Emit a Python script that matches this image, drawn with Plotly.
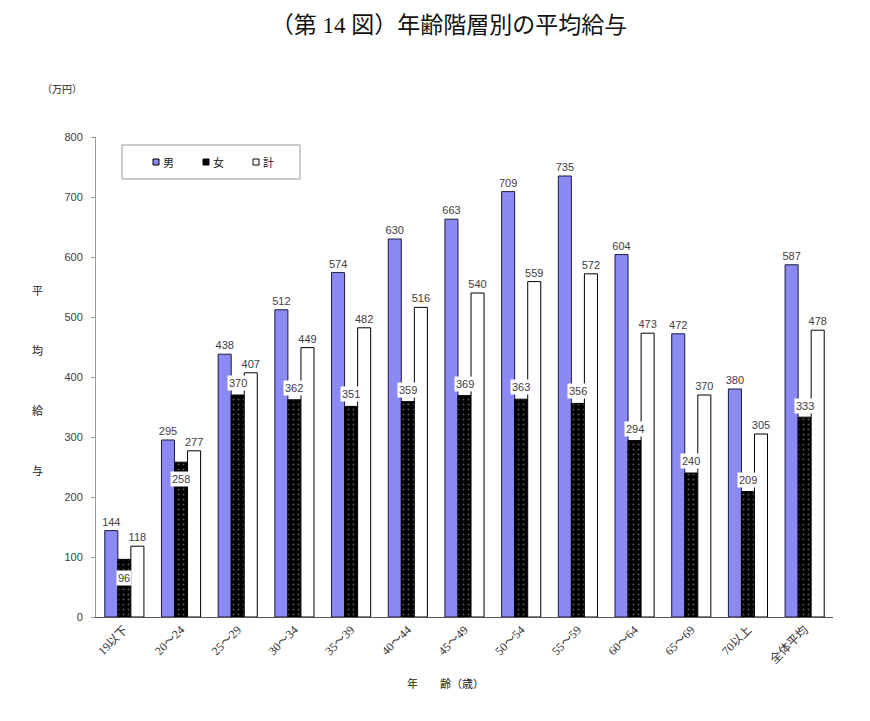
import plotly.graph_objects as go

categories = ["19以下", "20～24", "25～29", "30～34", "35～39", "40～44", "45～49",
              "50～54", "55～59", "60～64", "65～69", "70以上", "全体平均"]
male = [144, 295, 438, 512, 574, 630, 663, 709, 735, 604, 472, 380, 587]
female = [96, 258, 370, 362, 351, 359, 369, 363, 356, 294, 240, 209, 333]
total = [118, 277, 407, 449, 482, 516, 540, 559, 572, 473, 370, 305, 478]
series_names = ["男", "女", "計"]
y_ticks = [0, 100, 200, 300, 400, 500, 600, 700, 800]

# pixel offsets of the 女 value labels (style, not data)
female_label_shift = [-19, -17, 12, 12, 12, 12, 12, 12, 12, 12, 12, 12, 11]

sans = "Liberation Sans, Arial, Noto Sans CJK JP"
serif = "Liberation Serif, Noto Sans CJK JP"
cjk = "Noto Sans CJK JP"
label_font = dict(family=sans, size=11, color="#404040")

male_color = "#8a8af2"
female_color = "#000000"
total_color = "#ffffff"

# page offset (browser body margin)
OFF = 8
PL, PR, PT, PB = 96, 833, 137, 617   # plot area in screen px
PW, PH = PR - PL, PB - PT


def px(xs):
    return (xs - PL) / PW


def py(ys):
    return (PB - ys) / PH


fig = go.Figure()
fig.add_trace(go.Bar(
    name=series_names[0], x=categories, y=male,
    marker=dict(color=male_color, line=dict(color="#1a1a40", width=1)),
    text=[str(v) for v in male], textposition="outside", textfont=label_font,
    constraintext="none", cliponaxis=False,
))
fig.add_trace(go.Bar(
    name=series_names[1], x=categories, y=female,
    marker=dict(color=female_color, line=dict(color="#000000", width=1),
                pattern=dict(shape=".", fgcolor="#aaaaaa", bgcolor="#000000",
                             size=5, solidity=0.12)),
    cliponaxis=False,
))
fig.add_trace(go.Bar(
    name=series_names[2], x=categories, y=total,
    marker=dict(color=total_color, line=dict(color="#000000", width=1)),
    text=[str(v) for v in total], textposition="outside", textfont=label_font,
    constraintext="none", cliponaxis=False,
))

for c, v, s in zip(categories, female, female_label_shift):
    fig.add_annotation(x=c, y=v, xref="x", yref="y", text=str(v), showarrow=False,
                       xanchor="center", yanchor="middle",
                       yshift=s, bgcolor="#ffffff", borderpad=1,
                       font=label_font)

# legend frame and entries (drawn manually to match the small swatches)
fig.add_shape(type="rect", xref="paper", yref="paper",
              x0=px(122), x1=px(300), y0=py(179), y1=py(145),
              line=dict(color="#999999", width=1), fillcolor="rgba(0,0,0,0)")
legend_x = [153, 203, 253]
legend_fill = [male_color, female_color, total_color]
for name, lx, fc in zip(series_names, legend_x, legend_fill):
    fig.add_shape(type="rect", xref="paper", yref="paper",
                  x0=px(lx), x1=px(lx + 6), y0=py(165), y1=py(159),
                  line=dict(color="#000000", width=1), fillcolor=fc)
    fig.add_annotation(xref="paper", yref="paper", x=px(lx + 8), y=py(162),
                       xanchor="left", yanchor="middle", text=name, showarrow=False,
                       font=dict(family=cjk, size=11, color="#222222"))

# y-axis title stacked characters
for i, ch in enumerate(["平", "均", "給", "与"]):
    fig.add_annotation(xref="paper", yref="paper", x=px(37),
                       y=py(290 + 60 * i), text=ch, showarrow=False,
                       xanchor="center", yanchor="middle",
                       font=dict(family=cjk, size=11, color="#222222"))
fig.add_annotation(xref="paper", yref="paper", x=px(62), y=py(88),
                   text="（万円）", showarrow=False,
                   xanchor="center", yanchor="middle",
                   font=dict(family=cjk, size=10, color="#222222"))
fig.add_annotation(xref="paper", yref="paper", x=px(445), y=py(683),
                   text="年　　齢（歳）", showarrow=False,
                   xanchor="center", yanchor="middle",
                   font=dict(family=cjk, size=11, color="#222222"))

W, H = 870 - OFF, 721 - OFF
fig.update_layout(
    width=W, height=H,
    margin=dict(l=PL - OFF, r=W - (PR - OFF), t=PT - OFF, b=H - (PB - OFF)),
    paper_bgcolor="#ffffff", plot_bgcolor="#ffffff",
    title=dict(text="（第 14 図）年齢階層別の平均給与", x=(449 - OFF) / W,
               xanchor="center", y=1 - (25 - OFF) / H, yanchor="middle",
               font=dict(family=serif, size=23, color="#111111")),
    barmode="group", bargap=0.31, bargroupgap=0,
    showlegend=False,
    xaxis=dict(showline=True, linecolor="#555555", linewidth=1, ticks="",
               tickangle=-45, showgrid=False,
               tickfont=dict(family=serif, size=12, color="#333333")),
    yaxis=dict(range=[0, 800], tickvals=y_ticks, showline=True, linecolor="#999999",
               linewidth=1, ticks="outside", ticklen=4, tickcolor="#999999",
               ticklabelstandoff=6, showgrid=False, zeroline=False,
               tickfont=dict(family=sans, size=11, color="#404040")),
)

fig.write_html("out.html")
